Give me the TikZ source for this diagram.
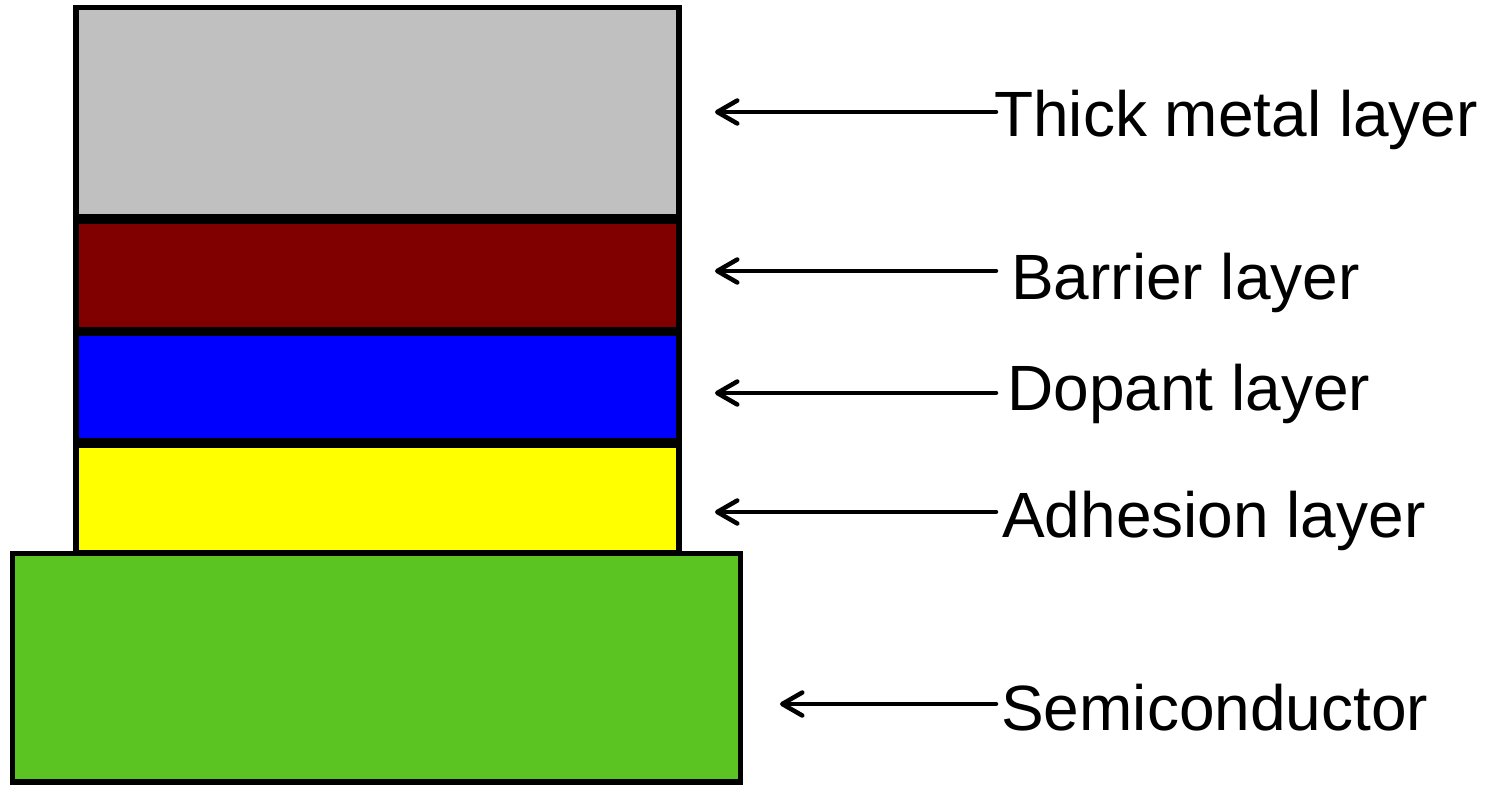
\documentclass[tikz,border=0pt]{standalone}
\usepackage{fontspec}
\setmainfont{Liberation Sans}
\usetikzlibrary{arrows.meta}
\definecolor{metalgray}{HTML}{C0C0C0}
\definecolor{barrierred}{HTML}{800000}
\definecolor{dopantblue}{HTML}{0000FF}
\definecolor{adhesionyellow}{HTML}{FFFF00}
\definecolor{semigreen}{HTML}{5BC423}
\tikzset{
  layer/.style={draw=black, line width=5.5pt},
  label/.style={anchor=base west, inner sep=0pt, font=\fontsize{64}{72}\selectfont},
  pointer/.style={line width=4.5pt, line cap=round,
    -{Straight Barb[length=20pt, width=23pt, line cap=round, line join=round]}}
}
\begin{document}
\begin{tikzpicture}[x=1pt, y=-1pt]
  \useasboundingbox (0,0) rectangle (1487,786);

  % layer stack
  \draw[layer, fill=metalgray]      (76,7.5)   rectangle (679,217);
  \draw[layer, fill=barrierred]     (76,221) rectangle (679,329.5);
  \draw[layer, fill=dopantblue]     (76,333.5) rectangle (679,441);
  \draw[layer, fill=adhesionyellow] (76,445) rectangle (679,553);
  \draw[layer, fill=semigreen]      (12.5,553.5) rectangle (740.5,782);

  % labels
  \node[label] (metal)    at (994,137)  {Thick metal layer};
  \node[label] (barrier)  at (1011,299) {Barrier layer};
  \node[label] (dopant)   at (1007,410) {Dopant layer};
  \node[label] (adhesion) at (1002,537) {Adhesion layer};
  \node[label] (semi)     at (1001,730) {Semiconductor};

  % pointer ends
  \coordinate (metal-tail)    at (996,112);
  \coordinate (metal-tip)     at (715,112);
  \coordinate (barrier-tail)  at (996,271);
  \coordinate (barrier-tip)   at (715,271);
  \coordinate (dopant-tail)   at (996,393);
  \coordinate (dopant-tip)    at (715,393);
  \coordinate (adhesion-tail) at (996,512);
  \coordinate (adhesion-tip)  at (715,512);
  \coordinate (semi-tail)     at (996,704);
  \coordinate (semi-tip)      at (780,704);

  \draw[pointer] (metal-tail)    -- (metal-tip);
  \draw[pointer] (barrier-tail)  -- (barrier-tip);
  \draw[pointer] (dopant-tail)   -- (dopant-tip);
  \draw[pointer] (adhesion-tail) -- (adhesion-tip);
  \draw[pointer] (semi-tail)     -- (semi-tip);
\end{tikzpicture}
\end{document}
